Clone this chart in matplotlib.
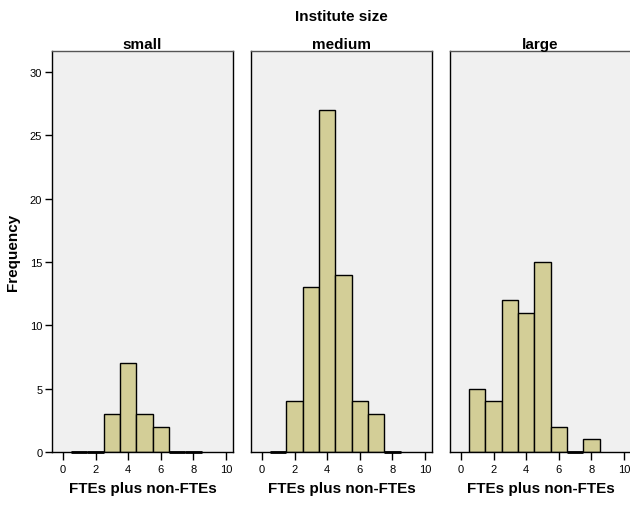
import matplotlib
matplotlib.use("Agg")
import matplotlib.pyplot as plt

plt.rcParams['font.family'] = ['Liberation Sans', 'DejaVu Sans']

# histogram bins of width 1 centred on the integers 1..8
bin_centers = [1, 2, 3, 4, 5, 6, 7, 8]
sizes = ['small', 'medium', 'large']
counts_small = [0, 0, 3, 7, 3, 2, 0, 0]
counts_medium = [0, 4, 13, 27, 14, 4, 3, 0]
counts_large = [5, 4, 12, 11, 15, 2, 0, 1]
all_counts = [counts_small, counts_medium, counts_large]

W, H = 630, 506
fig = plt.figure(figsize=(W / 100, H / 100), dpi=100)

lefts = [52, 251, 450]
top, bottom = 52, 453
pw = 181

for i, (name, counts) in enumerate(zip(sizes, all_counts)):
    ax = fig.add_axes([lefts[i] / W, (H - bottom) / H, pw / W, (bottom - top) / H])
    ax.set_facecolor('#f0f0f0')
    ax.bar(bin_centers, counts, width=1.0, color='#d3ce97', edgecolor='black',
           linewidth=1.0, zorder=2)
    # empty bins show up as a flat line on the baseline
    for c, n in zip(bin_centers, counts):
        if n == 0:
            ax.plot([c - 0.5, c + 0.5], [0, 0], color='black', lw=2, zorder=3,
                    solid_capstyle='butt', clip_on=False)
    ax.set_xlim(-0.67, 10.43)
    ax.set_ylim(0, 31.66)
    ax.set_xticks([0, 2, 4, 6, 8, 10])
    ax.tick_params(axis='x', direction='out', length=6, width=1, labelsize=8, pad=3)
    ax.set_title(name, fontsize=11, fontweight='bold', pad=2)
    ax.set_xlabel('FTEs plus non-FTEs', fontsize=11, fontweight='bold', labelpad=5)
    if i == 0:
        ax.set_yticks([0, 5, 10, 15, 20, 25, 30])
        ax.tick_params(axis='y', direction='out', length=5, width=1, labelsize=8, pad=2)
        ax.set_ylabel('Frequency', fontsize=11, fontweight='bold', labelpad=7)
    else:
        ax.set_yticks([])
    for s in ax.spines.values():
        s.set_color('black')
        s.set_linewidth(1.0)
    ax.spines['top'].set_color('#555555')

fig.text(341 / W, 1 - 17 / H, 'Institute size', ha='center', va='center',
         fontsize=11, fontweight='bold')

fig.savefig('out.png', dpi=100)
